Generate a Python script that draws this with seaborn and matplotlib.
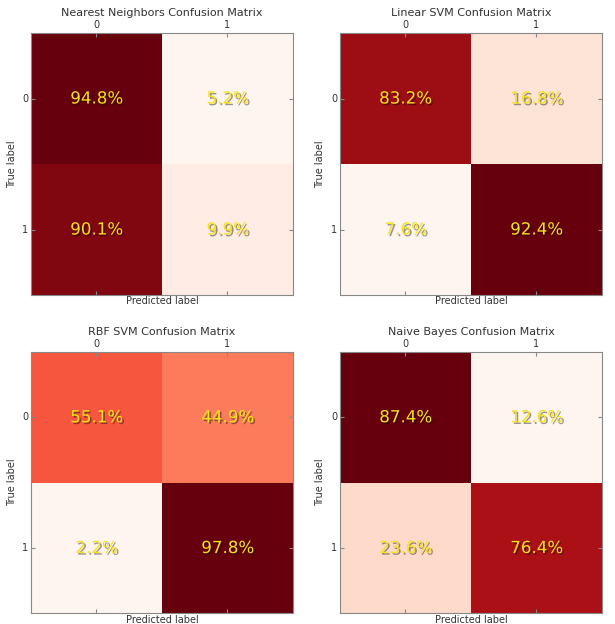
import numpy as np
import matplotlib
matplotlib.use("Agg")
import matplotlib.pyplot as plt
import matplotlib.patheffects as pe
import seaborn as sns

# percentages, rows = true label, cols = predicted
titles = ['Nearest Neighbors', 'Linear SVM', 'RBF SVM', 'Naive Bayes']
nearest_neighbors = [[94.8, 5.2], [90.1, 9.9]]
linear_svm = [[83.2, 16.8], [7.6, 92.4]]
rbf_svm = [[55.1, 44.9], [2.2, 97.8]]
naive_bayes = [[87.4, 12.6], [23.6, 76.4]]
class_labels = ['0', '1']

matrices = [nearest_neighbors, linear_svm, rbf_svm, naive_bayes]

plt.rcParams['font.family'] = ['DejaVu Sans']
fig = plt.figure(figsize=(6.15, 6.24), dpi=100)

rects = [
    [0.0504, 0.5272, 0.426, 0.4199],
    [0.5528, 0.5272, 0.426, 0.4199],
    [0.0504, 0.0170, 0.426, 0.4190],
    [0.5528, 0.0170, 0.426, 0.4190],
]

shadow = [pe.withSimplePatchShadow(offset=(1.2, -1.2), shadow_rgbFace='black', alpha=0.4)]

for rect, name, cm in zip(rects, titles, matrices):
    ax = fig.add_axes(rect)
    cm = np.array(cm)
    labels = np.array([[f'{v:.1f}%' for v in row] for row in cm])
    sns.heatmap(cm, ax=ax, cmap='Reds', cbar=False, annot=labels, fmt='',
                annot_kws={'color': '#f7e21b', 'fontsize': 12,
                           'path_effects': shadow},
                xticklabels=class_labels, yticklabels=class_labels)
    for s in ax.spines.values():
        s.set_visible(True)
        s.set_color('#888888')
        s.set_linewidth(0.8)
    ax.xaxis.tick_top()
    ax.xaxis.set_label_position('bottom')
    ax.tick_params(direction='in', top=True, bottom=True, left=True, right=True,
                   labeltop=True, labelbottom=False, length=3, color='#888888',
                   labelsize=7, labelcolor='#333333', pad=2)
    ax.tick_params(axis='y', rotation=0)
    ax.set_title(f'{name} Confusion Matrix', fontsize=8, color='#333333', pad=12)
    ax.set_xlabel('Predicted label', fontsize=7, color='#333333', labelpad=1)
    ax.set_ylabel('True label', fontsize=7, color='#333333', labelpad=4)

fig.savefig('out.png', dpi=100)
